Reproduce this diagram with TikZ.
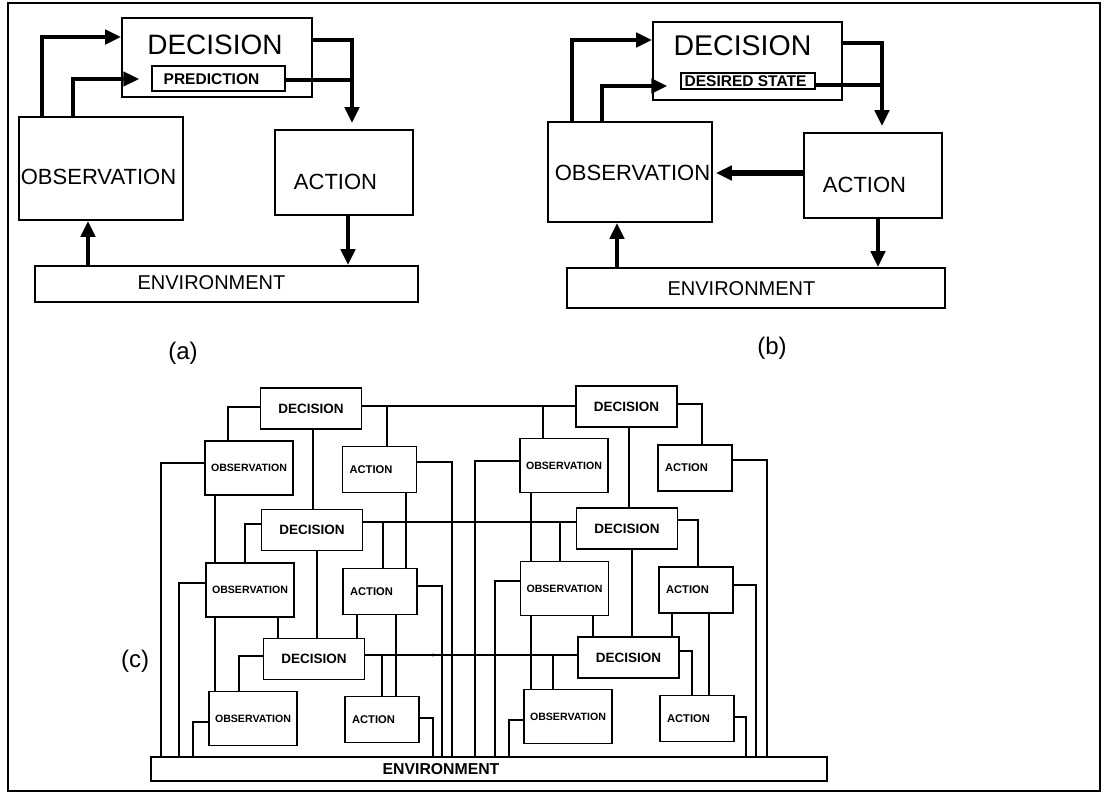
\documentclass[tikz,border=0pt]{standalone}
\usepackage{fontspec}
\setmainfont{Liberation Sans}
\usetikzlibrary{arrows.meta}
\begin{document}
\begin{tikzpicture}[x=1pt,y=-1pt,
  box/.style={draw, line width=1.6pt, inner sep=0pt},
  lbl/.style={inner sep=0pt},
  bigarrow/.style={line width=4.5pt, -{Triangle[length=16pt,width=14pt]}},
  bigline/.style={line width=4.5pt},
  cbox/.style={draw, line width=1.5pt, inner sep=0pt},
  cdec/.style={cbox, minimum width=101pt, minimum height=41pt, font=\bfseries\fontsize{13.5}{15}\selectfont},
  cobs/.style={cbox, minimum width=88pt, minimum height=54pt, font=\bfseries\fontsize{10.6}{12}\selectfont},
  cact/.style={cbox, minimum width=74pt, minimum height=46pt, text width=60pt, align=left, inner xsep=6pt, font=\bfseries\fontsize{11.2}{12}\selectfont},
  wire/.style={line width=1.3pt},
  jdot/.style={circle, fill, inner sep=0pt, minimum size=3.4pt}
]
\useasboundingbox (0,0) rectangle (1109,794);

% outer frame
\draw[line width=1.5pt] (8,3) rectangle (1100,791);

% ---------------- (a) ----------------
\node[box, minimum width=190pt, minimum height=79pt] (decA) at (217,57.5) {};
\node[box, line width=1.3pt, minimum width=133pt, minimum height=25pt] (predA) at (218.5,78.5) {};
\node[box, minimum width=164pt, minimum height=103pt] (obsA) at (101,168.5) {};
\node[box, minimum width=138pt, minimum height=85pt] (actA) at (344,172.5) {};
\node[box, minimum width=383pt, minimum height=36pt] (envA) at (226.5,284) {};

\node[lbl, font=\fontsize{28}{30}\selectfont] (decAt) at (215,45) {DECISION};
\node[lbl, font=\bfseries\fontsize{15.5}{17}\selectfont] (predAt) at (211.5,79) {PREDICTION};
\node[lbl, font=\fontsize{22}{24}\selectfont] (obsAt) at (98.5,177) {OBSERVATION};
\node[lbl, font=\fontsize{22}{24}\selectfont] (actAt) at (335.5,182) {ACTION};
\node[lbl, font=\fontsize{20}{22}\selectfont] (envAt) at (211.5,283) {ENVIRONMENT};

\draw[bigarrow] (obsA.north -| 42,0) |- (decA.west |- 0,37);
\draw[bigarrow, shorten >=12pt] (obsA.north -| 73,0) |- (predA.west |- 0,79);
\draw[bigline] (predA.east |- 0,80) -- ++(67,0);
\draw[bigarrow, shorten >=6pt] (decA.east |- 0,40) -| (actA.north -| 352,0);
\draw[bigarrow] (envA.north -| 88,0) -- (obsA.south -| 88,0);
\draw[bigarrow] (actA.south -| 348,0) -- (envA.north -| 348,0);

\node[lbl, font=\fontsize{24}{26}\selectfont] (labA) at (183,353) {(a)};

% ---------------- (b) ----------------
\node[box, minimum width=189pt, minimum height=78pt] (decB) at (747.5,61) {};
\node[box, line width=1.2pt, minimum width=134pt, minimum height=16pt] (desB) at (748,81) {};
\node[box, minimum width=164pt, minimum height=100pt] (obsB) at (630,172) {};
\node[box, minimum width=138pt, minimum height=85pt] (actB) at (873,175.5) {};
\node[box, minimum width=378pt, minimum height=40pt] (envB) at (756,288) {};

\node[lbl, font=\fontsize{28.5}{30}\selectfont] (decBt) at (742.5,46) {DECISION};
\node[lbl, font=\bfseries\fontsize{15.5}{17}\selectfont] (desBt) at (745.5,81) {DESIRED STATE};
\node[lbl, font=\fontsize{22}{24}\selectfont] (obsBt) at (632.5,173) {OBSERVATION};
\node[lbl, font=\fontsize{22}{24}\selectfont] (actBt) at (864.5,184.5) {ACTION};
\node[lbl, font=\fontsize{20}{22}\selectfont] (envBt) at (741.5,289) {ENVIRONMENT};

\draw[bigarrow] (obsB.north -| 572,0) |- (decB.west |- 0,40);
\draw[bigarrow, shorten >=13pt] (obsB.north -| 602,0) |- (desB.west |- 0,86);
\draw[bigline] (desB.east |- 0,85) -- ++(67,0);
\draw[bigarrow, shorten >=6pt] (decB.east |- 0,43) -| (actB.north -| 882,0);
\draw[bigarrow, line width=5.5pt, shorten >=3pt] (actB.west |- 0,173) -- (obsB.east |- 0,173);
\draw[bigarrow] (envB.north -| 617,0) -- (obsB.south -| 617,0);
\draw[bigarrow] (actB.south -| 878,0) -- (envB.north -| 878,0);

\node[lbl, font=\fontsize{24}{26}\selectfont] (labB) at (772,348) {(b)};

% ---------------- (c) ----------------
\node[lbl, font=\fontsize{24}{26}\selectfont] (labC) at (135,661) {(c)};

\node[cbox, minimum width=676pt, minimum height=24pt] (envC) at (489,769) {};
\node[lbl, font=\bfseries\fontsize{15.8}{17}\selectfont] (envCt) at (441,769) {ENVIRONMENT};

% left hierarchy
\node[cdec] (lDec1) at (311,408.5) {DECISION};
\node[cobs] (lObs1) at (249,468) {OBSERVATION};
\node[cact] (lAct1) at (379.5,469.5) {ACTION};
\node[cdec] (lDec2) at (312,530) {DECISION};
\node[cobs] (lObs2) at (250,590) {OBSERVATION};
\node[cact] (lAct2) at (380,591.5) {ACTION};
\node[cdec] (lDec3) at (314,659) {DECISION};
\node[cobs] (lObs3) at (253,718.5) {OBSERVATION};
\node[cact] (lAct3) at (382,719.5) {ACTION};
% right hierarchy
\node[cdec] (rDec1) at (626.5,406.5) {DECISION};
\node[cobs] (rObs1) at (564,465.5) {OBSERVATION};
\node[cact] (rAct1) at (695,468) {ACTION};
\node[cdec] (rDec2) at (627,528.5) {DECISION};
\node[cobs] (rObs2) at (564.5,588.5) {OBSERVATION};
\node[cact] (rAct2) at (696,590) {ACTION};
\node[cdec] (rDec3) at (628.5,657.5) {DECISION};
\node[cobs] (rObs3) at (568,716.5) {OBSERVATION};
\node[cact] (rAct3) at (697,718.5) {ACTION};

% decision buses between the two hierarchies
\draw[wire] (lDec1.east |- 0,406) -- (rDec1.west |- 0,406);
\draw[wire] (lAct1.north -| 387,0) |- (lDec1.east |- 0,406);
\draw[wire] (rObs1.north -| 543,0) |- (rDec1.west |- 0,406);
\draw[wire] (lDec2.east |- 0,522) -- (rDec2.west |- 0,522);
\draw[wire] (lAct2.north -| 383,0) |- (lDec2.east |- 0,522);
\draw[wire] (rObs2.north -| 560,0) |- (rDec2.west |- 0,522);
\draw[wire] (lDec3.east |- 0,655) -- (rDec3.west |- 0,655);
\draw[wire] (lAct3.north -| 382,0) |- (lDec3.east |- 0,655);
\draw[wire] (rObs3.north -| 553,0) |- (rDec3.west |- 0,655);

% left hierarchy wiring
\draw[wire] (lDec1.west |- 0,407) -| (lObs1.north -| 228,0);
\draw[wire] (lDec1.south -| 313,0) -- (lDec2.north -| 313,0);
\draw[wire] (lDec2.west |- 0,524) -| (lObs2.north -| 245,0);
\draw[wire] (lDec2.south -| 317,0) -- (lDec3.north -| 317,0);
\draw[wire] (lDec3.west |- 0,656) -| (lObs3.north -| 239,0);
\draw[wire] (lObs1.south -| 215,0) -- (lObs2.north -| 215,0);
\draw[wire] (lObs2.south -| 215,0) -- (lObs3.north -| 215,0);
\draw[wire] (lObs2.south -| 278,0) -- (lDec3.north -| 278,0);
\draw[wire] (lAct1.south -| 406,0) -- (lAct2.north -| 406,0);
\draw[wire] (lAct2.south -| 357,0) -- (lDec3.north -| 357,0);
\draw[wire] (lAct2.south -| 396,0) -- (lAct3.north -| 396,0);
\draw[wire] (lObs1.west |- 0,463) -| (envC.north -| 161,0);
\draw[wire] (lObs2.west |- 0,583) -| (envC.north -| 179,0);
\draw[wire] (lObs3.west |- 0,722) -| (envC.north -| 193,0);
\draw[wire] (lAct1.east |- 0,462) -| (envC.north -| 452,0);
\draw[wire] (lAct2.east |- 0,586) -| (envC.north -| 442,0);
\draw[wire] (lAct3.east |- 0,718) -| (envC.north -| 433,0);

% right hierarchy wiring
\draw[wire] (rDec1.east |- 0,404) -| (rAct1.north -| 702,0);
\draw[wire] (rDec1.south -| 629,0) -- (rDec2.north -| 629,0);
\draw[wire] (rDec2.east |- 0,520) -| (rAct2.north -| 698,0);
\draw[wire] (rDec2.south -| 632,0) -- (rDec3.north -| 632,0);
\draw[wire] (rDec3.east |- 0,651) -| (rAct3.north -| 692,0);
\draw[wire] (rObs1.south -| 531,0) -- (rObs2.north -| 531,0);
\draw[wire] (rObs2.south -| 531,0) -- (rObs3.north -| 531,0);
\draw[wire] (rObs2.south -| 593,0) -- (rDec3.north -| 593,0);
\draw[wire] (rAct2.south -| 672,0) -- (rDec3.north -| 672,0);
\draw[wire] (rAct2.south -| 709,0) -- (rAct3.north -| 709,0);
\draw[wire] (rObs1.west |- 0,461) -| (envC.north -| 475,0);
\draw[wire] (rObs2.west |- 0,581) -| (envC.north -| 495,0);
\draw[wire] (rObs3.west |- 0,720) -| (envC.north -| 509,0);
\draw[wire] (rAct1.east |- 0,460) -| (envC.north -| 767,0);
\draw[wire] (rAct2.east |- 0,585) -| (envC.north -| 756,0);
\draw[wire] (rAct3.east |- 0,717) -| (envC.north -| 746,0);

% blobs where buses cross the vertical wires
\foreach \x in {406,452,475,531} \node[jdot] at (\x,522) {};
\foreach \x in {396,433,442,452,475,495,531} \node[jdot] at (\x,655) {};
\end{tikzpicture}
\end{document}
